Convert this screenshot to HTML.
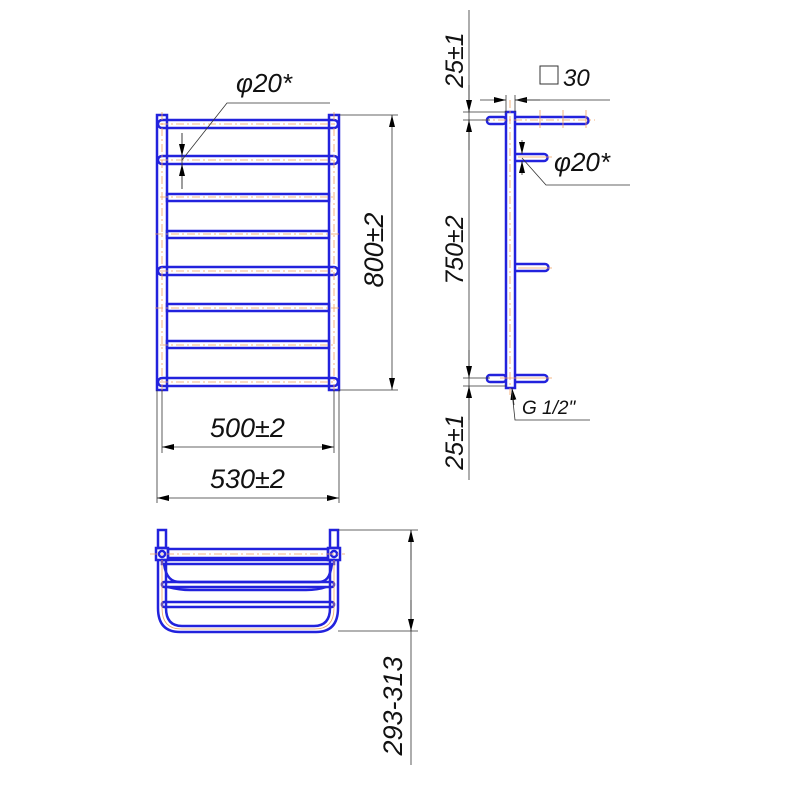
<!DOCTYPE html>
<html><head><style>html,body{margin:0;padding:0;background:#fff}svg{display:block}</style></head>
<body>
<svg width="787" height="787" viewBox="0 0 787 787" xmlns="http://www.w3.org/2000/svg">
<defs>
<marker id="a" viewBox="0 0 12 6" refX="12" refY="3" markerWidth="12" markerHeight="6" orient="auto-start-reverse" markerUnits="userSpaceOnUse"><path d="M0,0 L12,3 L0,6 z" fill="#000"/></marker>
</defs>
<g font-family="Liberation Sans, sans-serif" font-style="italic" fill="#111">
<g stroke="#2222dd" stroke-width="2.5" fill="none">
<rect x="157" y="115" width="10" height="275"/>
<rect x="329" y="115" width="10" height="275"/>
<rect x="158" y="120" width="180" height="8" rx="4"/>
<rect x="158" y="156" width="180" height="8" rx="4"/>
<rect x="167" y="194" width="162" height="7"/>
<rect x="167" y="231" width="162" height="7"/>
<rect x="158" y="267" width="180" height="8" rx="4"/>
<rect x="167" y="304" width="162" height="7"/>
<rect x="167" y="341" width="162" height="7"/>
<rect x="158" y="378" width="180" height="8" rx="4"/>
</g>
<g stroke="#f0a060" stroke-width="0.8" stroke-dasharray="8,3,2,3" fill="none">
<line x1="162" y1="112" x2="162" y2="393"/><line x1="334" y1="112" x2="334" y2="393"/>
<line x1="160" y1="124" x2="336" y2="124"/><line x1="160" y1="160" x2="336" y2="160"/>
<line x1="160" y1="197" x2="336" y2="197"/><line x1="155" y1="234" x2="340" y2="234"/>
<line x1="160" y1="271" x2="336" y2="271"/><line x1="155" y1="308" x2="340" y2="308"/>
<line x1="160" y1="345" x2="336" y2="345"/><line x1="160" y1="382" x2="336" y2="382"/>
</g>
<g stroke="#333" stroke-width="0.8" fill="none">
<line x1="339" y1="115" x2="398" y2="115"/><line x1="339" y1="390" x2="398" y2="390"/>
<line x1="392" y1="115" x2="392" y2="390" marker-start="url(#a)" marker-end="url(#a)"/>
<line x1="162" y1="390" x2="162" y2="453"/><line x1="334" y1="390" x2="334" y2="453"/>
<line x1="157" y1="390" x2="157" y2="503"/><line x1="339" y1="390" x2="339" y2="503"/>
<line x1="162" y1="447" x2="334" y2="447" marker-start="url(#a)" marker-end="url(#a)"/>
<line x1="157" y1="498" x2="339" y2="498" marker-start="url(#a)" marker-end="url(#a)"/>
<line x1="182" y1="133" x2="182" y2="189"/>
<line x1="182" y1="133" x2="182" y2="156" marker-end="url(#a)"/>
<line x1="182" y1="189" x2="182" y2="164" marker-end="url(#a)"/>
<polyline points="182,160 227,103 330,103"/>
</g>
<text x="236" y="92" font-size="26">φ20*</text>
<text x="210" y="437" font-size="27">500±2</text>
<text x="210" y="488" font-size="27">530±2</text>
<text transform="translate(383,250) rotate(-90)" text-anchor="middle" font-size="27">800±2</text>

<g stroke="#2222dd" stroke-width="2.5" fill="none">
<rect x="506" y="112" width="9" height="276"/>
<rect x="487" y="117" width="19" height="7" rx="3"/>
<path d="M515,117 H585 a3.5,3.5 0 0 1 0,7 H515"/>
<path d="M515,154 H544 a3.5,3.5 0 0 1 0,7 H515"/>
<path d="M515,264 H545 a3.5,3.5 0 0 1 0,7 H515"/>
<rect x="487" y="375" width="19" height="7" rx="3"/>
<path d="M515,375 H544 a3.5,3.5 0 0 1 0,7 H515"/>
</g>
<g stroke="#f0a060" stroke-width="0.8" fill="none">
<line x1="510" y1="100" x2="510" y2="395" stroke-dasharray="8,3,2,3"/>
<line x1="482" y1="120" x2="595" y2="120" stroke-dasharray="8,3,2,3"/>
<line x1="518" y1="157" x2="552" y2="157"/><line x1="518" y1="268" x2="552" y2="268"/><line x1="500" y1="378" x2="552" y2="378"/>
<line x1="540" y1="110" x2="540" y2="128"/><line x1="563" y1="110" x2="563" y2="128"/><line x1="586" y1="110" x2="586" y2="128"/>
</g>
<g stroke="#333" stroke-width="0.8" fill="none">
<line x1="469" y1="10" x2="469" y2="480"/>
<line x1="463" y1="112" x2="506" y2="112"/><line x1="463" y1="120" x2="490" y2="120"/>
<line x1="463" y1="378" x2="490" y2="378"/><line x1="463" y1="386" x2="506" y2="386"/>
<line x1="469" y1="85" x2="469" y2="112" marker-end="url(#a)"/>
<line x1="469" y1="150" x2="469" y2="120" marker-end="url(#a)"/>
<line x1="469" y1="350" x2="469" y2="378" marker-end="url(#a)"/>
<line x1="469" y1="420" x2="469" y2="386" marker-end="url(#a)"/>
<line x1="506" y1="95" x2="506" y2="112"/><line x1="515" y1="95" x2="515" y2="112"/>
<line x1="480" y1="100" x2="506" y2="100" marker-end="url(#a)"/>
<line x1="540" y1="100" x2="515" y2="100" marker-end="url(#a)"/>
<line x1="515" y1="100" x2="610" y2="100"/>
<line x1="522" y1="140" x2="522" y2="154" marker-end="url(#a)"/>
<line x1="522" y1="175" x2="522" y2="161" marker-end="url(#a)"/>
<polyline points="522,158 546,185 630,185"/>
<line x1="514" y1="405" x2="512" y2="388" marker-end="url(#a)"/>
<polyline points="512,392 515,420 590,420"/>
</g>
<rect x="540" y="66" width="18" height="18" fill="none" stroke="#333" stroke-width="1"/>
<text x="563" y="86" font-size="24">30</text>
<text x="554" y="171" font-size="26">φ20*</text>
<text x="522" y="414" font-size="19">G 1/2"</text>
<text transform="translate(463,60) rotate(-90)" text-anchor="middle" font-size="25">25±1</text>
<text transform="translate(463,250) rotate(-90)" text-anchor="middle" font-size="25">750±2</text>
<text transform="translate(463,442) rotate(-90)" text-anchor="middle" font-size="25">25±1</text>

<g stroke="#2222dd" stroke-width="2.5" fill="none">
<rect x="158" y="530" width="8" height="18"/><rect x="330" y="530" width="8" height="18"/>
<rect x="156" y="548" width="12" height="12"/><rect x="328" y="548" width="12" height="12"/>
<circle cx="162" cy="554" r="3"/><circle cx="334" cy="554" r="3"/>
<rect x="168" y="549" width="160" height="9"/>
<rect x="162" y="560" width="172" height="4"/>
<path d="M164,564 C166,578 172,582 180,582 H318 C326,582 330,578 332,564"/>
<rect x="162" y="582" width="172" height="5" rx="2"/>
<path d="M168,587 Q180,590 190,590 H306 Q318,590 326,587"/>
<rect x="162" y="602" width="172" height="5" rx="2"/>
<path d="M158,560 V608 Q158,632 180,632 H316 Q338,632 338,608 V560"/>
<path d="M166,560 V608 Q166,626 182,626 H314 Q330,626 330,608 V560"/>
</g>
<g stroke="#f0a060" stroke-width="0.8" fill="none">
<line x1="150" y1="554" x2="345" y2="554" stroke-dasharray="8,3,2,3"/>
<path d="M162,560 V608 Q162,629 181,629 H315 Q334,629 334,608 V560"/>
</g>
<g stroke="#333" stroke-width="0.8" fill="none">
<line x1="338" y1="530" x2="418" y2="530"/><line x1="338" y1="631" x2="418" y2="631"/>
<line x1="411" y1="530" x2="411" y2="765"/>
<line x1="411" y1="560" x2="411" y2="530" marker-end="url(#a)"/>
<line x1="411" y1="600" x2="411" y2="631" marker-end="url(#a)"/>
</g>
<text transform="translate(402,706) rotate(-90)" text-anchor="middle" font-size="27">293-313</text>
</g>
</svg>
</body></html>
